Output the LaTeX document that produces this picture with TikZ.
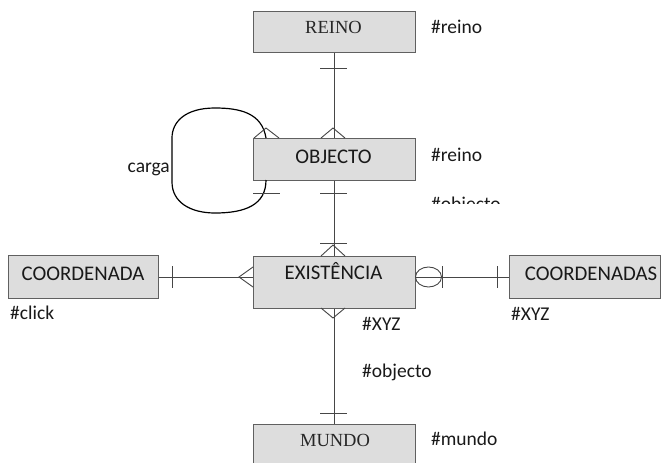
\documentclass[tikz,border=0pt]{standalone}
\usepackage{fontspec}
\setmainfont{Carlito}
\newfontfamily\serifrm{Liberation Serif}
\begin{document}
\begin{tikzpicture}[x=1pt,y=-1pt,
  ent/.style={draw=gray!75!black, fill=gray!27, line width=0.9pt, inner sep=0pt, anchor=north west},
  ttl/.style={inner sep=0pt, anchor=base, font=\fontsize{20.8}{24}\selectfont, text=black!90},
  sttl/.style={inner sep=0pt, anchor=base, font=\fontsize{18.5}{22}\serifrm\selectfont, text=black!85},
  lbl/.style={inner sep=0pt, anchor=base west, font=\fontsize{19.5}{23}\selectfont, text=black!90},
  rel/.style={draw=gray!55!black, line width=0.9pt},
  tickmark/.style={draw=gray!55!black, line width=0.9pt},
  loopline/.style={draw=black, line width=1.2pt}]
\useasboundingbox (0,0) rectangle (664,463);

% entity boxes
\node[ent, minimum width=162pt, minimum height=41pt] (reino) at (253,11) {};
\node[ent, minimum width=162pt, minimum height=42pt] (objecto) at (253,138) {};
\node[ent, minimum width=162pt, minimum height=52pt] (exist) at (253,256) {};
\node[ent, minimum width=150pt, minimum height=43pt] (coordl) at (8,255) {};
\node[ent, minimum width=151pt, minimum height=43pt] (coordr) at (509,255) {};
\node[ent, minimum width=162pt, minimum height=48pt] (mundo) at (253,424) {};

% titles
\node[sttl] (treino) at (333.5,34) {REINO};
\node[ttl] (tobj) at (333.5,163) {OBJECTO};
\node[ttl] (texist) at (333.5,279) {EXISTÊNCIA};
\node[ttl] (tcl) at (83,280) {COORDENADA};
\node[ttl] (tcr) at (591,280) {COORDENADAS};
\node[sttl] (tmundo) at (335,446) {MUNDO};

% attribute labels
\node[lbl] (l1) at (431,34) {\#reino};
\node[lbl] (l2) at (431,161) {\#reino};
\begin{scope}
  \clip (420,185) rectangle (560,203);
  \node[lbl] (l3) at (431,210) {\#objecto};
\end{scope}
\node[lbl] (l4) at (10,319) {\#click};
\node[lbl] (l5) at (362,330) {\#XYZ};
\node[lbl] (l6) at (511,320) {\#XYZ};
\node[lbl] (l7) at (362,377) {\#objecto};
\node[lbl] (l8) at (431,445) {\#mundo};
\node[lbl, anchor=base east] (lcarga) at (170,172) {carga};

% REINO -- OBJECTO
\draw[rel] (reino.south) -- (objecto.north);
\draw[tickmark] (320,68) -- (347,68);
\draw[tickmark] (321,138) -- (333,128) -- (345,138);

% OBJECTO -- EXISTENCIA
\draw[rel] (objecto.south) -- (exist.north);
\draw[tickmark] (320,193) -- (347,193);
\draw[tickmark] (320,243) -- (347,243);
\draw[tickmark] (321,256) -- (333,245) -- (345,256);

% EXISTENCIA -- MUNDO
\draw[rel] (exist.south) -- (mundo.north);
\draw[tickmark] (321,308) -- (333,318) -- (345,308);
\draw[tickmark] (320,413) -- (347,413);

% COORDENADA -- EXISTENCIA
\draw[rel] (coordl.east |- 0,277) -- (exist.west |- 0,277);
\draw[tickmark] (172,266) -- (172,288);
\draw[tickmark] (253,267) -- (239,277) -- (253,287);

% EXISTENCIA -- COORDENADAS
\draw[rel] (exist.east |- 0,277) -- (coordr.west |- 0,277);
\draw[tickmark] (428.5,277) ellipse [x radius=13pt, y radius=10pt];
\draw[tickmark] (442,266) -- (442,288);
\draw[tickmark] (497,266) -- (497,288);

% recursive loop on OBJECTO
\coordinate (ltop) at (266,138);
\coordinate (lbot) at (266,180);
\draw[loopline] (ltop) .. controls (262,113) and (240,108) .. (215,108)
  .. controls (185,108) and (172,122) .. (172,138) -- (172,182)
  .. controls (172,202) and (190,213) .. (215,213)
  .. controls (245,213) and (266,205) .. (lbot);
\draw[tickmark] (254,138) -- (266,128) -- (279,138);
\draw[tickmark] (253,193) -- (280,193);
\end{tikzpicture}
\end{document}
